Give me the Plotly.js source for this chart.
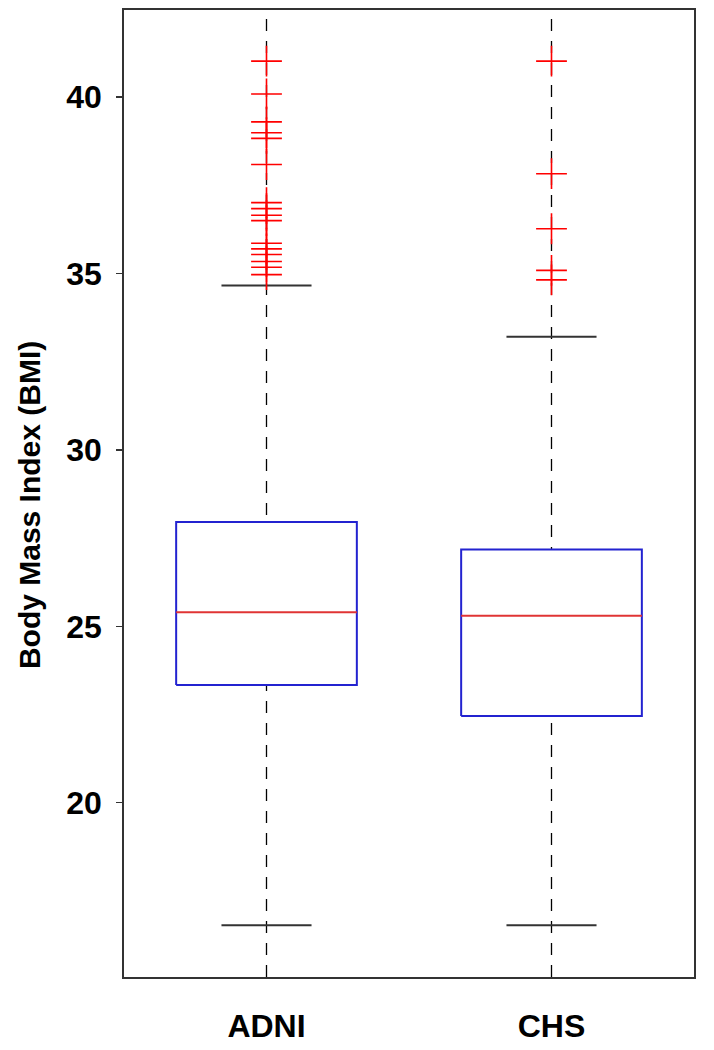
<!DOCTYPE html>
<html>
<head>
<meta charset="utf-8">
<script src="https://cdn.plot.ly/plotly-3.0.1.min.js"></script>
<style>html,body{margin:0;padding:0;background:#fff;}#chart{width:714px;height:1050px;}</style>
</head>
<body>
<div id="chart"></div>
<script>
// ---- data ----
const categories = ['ADNI', 'CHS'];
const positions = [1, 2];
const q1 = [23.34, 22.46];
const medians = [25.40, 25.30];
const q3 = [27.96, 27.18];
const lowerWhisker = [16.53, 16.53];
const upperWhisker = [34.66, 33.21];
const adniOutliers = [41.02, 40.09, 39.30, 38.99, 38.83, 38.09, 37.01, 36.84, 36.65, 36.50, 35.86, 35.70, 35.54, 35.34, 35.18, 34.97];
const chsOutliers = [41.02, 37.83, 36.27, 35.09, 34.82];
const outliers = [adniOutliers, chsOutliers];
const yTicks = [20, 25, 30, 35, 40];
const yTitle = 'Body Mass Index (BMI)';

// ---- styling constants ----
const yRange = [15.06, 42.47];
const boxHalf = 0.317;
const capHalf = 0.158;
const traces = [];

positions.forEach((c, i) => {
  traces.push({x: [c, c], y: [yRange[0], yRange[1]], mode: 'lines', type: 'scatter',
    line: {color: '#000', width: 1.3, dash: '12px,10px'}, hoverinfo: 'skip', showlegend: false});
});
positions.forEach((c, i) => {
  traces.push({x: [c - boxHalf, c + boxHalf, c + boxHalf, c - boxHalf, c - boxHalf],
    y: [q1[i], q1[i], q3[i], q3[i], q1[i]], mode: 'lines', type: 'scatter', fill: 'toself',
    fillcolor: '#fff', line: {color: '#2323d0', width: 2}, hoverinfo: 'skip', showlegend: false});
  traces.push({x: [c - boxHalf, c + boxHalf], y: [medians[i], medians[i]], mode: 'lines', type: 'scatter',
    line: {color: '#e03434', width: 2}, hoverinfo: 'skip', showlegend: false});
  traces.push({x: [c - capHalf, c + capHalf], y: [upperWhisker[i], upperWhisker[i]], mode: 'lines', type: 'scatter',
    line: {color: '#333', width: 2}, hoverinfo: 'skip', showlegend: false});
  traces.push({x: [c - capHalf, c + capHalf], y: [lowerWhisker[i], lowerWhisker[i]], mode: 'lines', type: 'scatter',
    line: {color: '#333', width: 2}, hoverinfo: 'skip', showlegend: false});
  traces.push({x: outliers[i].map(() => c), y: outliers[i], mode: 'markers', type: 'scatter',
    marker: {symbol: 'cross-thin', size: 22, line: {color: '#ff0000', width: 1.6}},
    hoverinfo: 'y', showlegend: false});
});

const fontFam = 'Liberation Sans, Arial, sans-serif';
const layout = {
  width: 714, height: 1050,
  margin: {l: 124, r: 20, t: 10, b: 73},
  paper_bgcolor: '#fff', plot_bgcolor: '#fff',
  showlegend: false,
  xaxis: {range: [0.5, 2.5], tickvals: positions, ticktext: categories, ticks: '',
    showgrid: false, zeroline: false, showline: true, mirror: true, linecolor: '#333', linewidth: 1.8,
    ticklabelstandoff: 20,
    tickfont: {family: fontFam, size: 32, color: '#000', weight: 'bold'}},
  yaxis: {range: yRange, tickvals: yTicks, ticks: 'outside', ticklen: 6, tickcolor: '#333', tickwidth: 1.3,
    showgrid: false, zeroline: false, showline: true, mirror: true, linecolor: '#333', linewidth: 1.8,
    ticklabelstandoff: 8,
    tickfont: {family: fontFam, size: 32, color: '#000', weight: 'bold'}},
  annotations: [{text: yTitle, textangle: -90, xref: 'paper', yref: 'paper', x: 0, y: 0.488,
    xshift: -95, showarrow: false, xanchor: 'center', yanchor: 'middle',
    font: {family: fontFam, size: 30, color: '#000', weight: 'bold'}}]
};
Plotly.newPlot('chart', traces, layout, {displayModeBar: false, staticPlot: true});
</script>
</body>
</html>
